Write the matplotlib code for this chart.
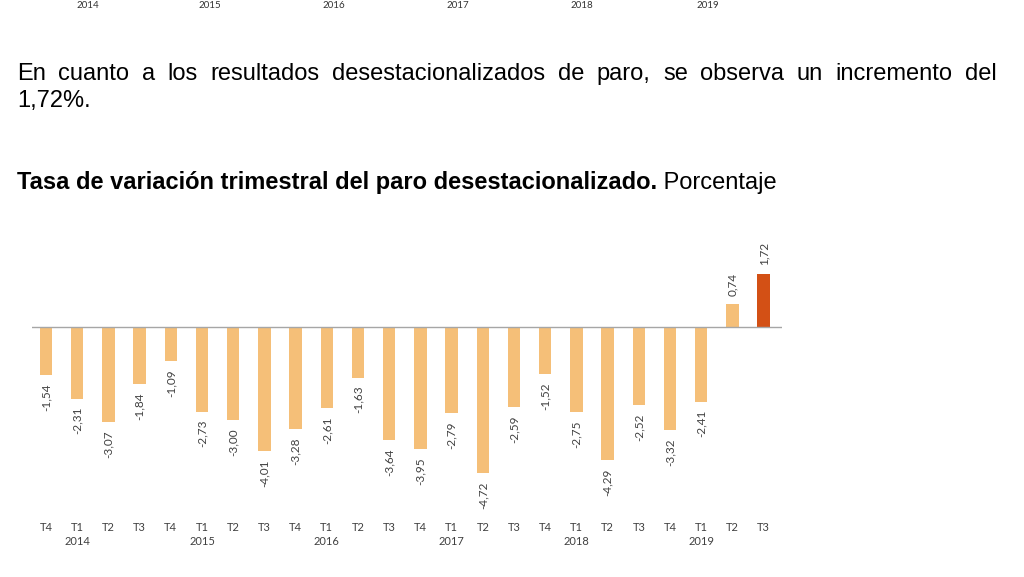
import numpy as np
import matplotlib
matplotlib.use("Agg")
import matplotlib.pyplot as plt

# ============================================
# DATA
# ============================================
quarters = ["T4", "T1", "T2", "T3", "T4", "T1", "T2", "T3", "T4", "T1", "T2", "T3",
            "T4", "T1", "T2", "T3", "T4", "T1", "T2", "T3", "T4", "T1", "T2", "T3"]
years = ["", "2014", "", "", "", "2015", "", "", "", "2016", "", "",
         "", "2017", "", "", "", "2018", "", "", "", "2019", "", ""]
values = [-1.54, -2.31, -3.07, -1.84, -1.09, -2.73, -3.00, -4.01, -3.28, -2.61, -1.63, -3.64,
          -3.95, -2.79, -4.72, -2.59, -1.52, -2.75, -4.29, -2.52, -3.32, -2.41, 0.74, 1.72]

# years left over from the previous chart (cut at the top of the page)
prev_years = ["2014", "2015", "2016", "2017", "2018", "2019"]
prev_years_x = [88, 210, 334, 458, 582, 708]

paragraph = ("En cuanto a los resultados desestacionalizados de paro, "
             "se observa un incremento del")
paragraph_end = "1,72%."
title_bold = "Tasa de variación trimestral del paro desestacionalizado."
title_norm = " Porcentaje"

light = "#F5BF78"
dark = "#D35015"

W, H = 1024, 577
fig = plt.figure(figsize=(W / 100, H / 100), dpi=100)
txt_font = "Liberation Sans"
lbl_font = "Lato"

# --- year labels left at the top of the page ---
for yr, px in zip(prev_years, prev_years_x):
    fig.text(px / W, 1 - 5 / H, yr, ha="center", va="center",
             fontsize=7, color="#333333", family=lbl_font)

# --- justified paragraph ---
fig.canvas.draw()
renderer = fig.canvas.get_renderer()
words = paragraph.split()
left_px, right_px = 17, 997
line1_y = 1 - 74 / H
fs = 17
objs = [fig.text(0, line1_y, w, fontsize=fs, family=txt_font, va="center") for w in words]
widths = [o.get_window_extent(renderer).width for o in objs]
gap = (right_px - left_px - sum(widths)) / (len(words) - 1)
cur = left_px
for o, w in zip(objs, widths):
    o.set_x(cur / W)
    cur += w + gap
fig.text(left_px / W, 1 - 101 / H, paragraph_end, fontsize=fs, family=txt_font, va="center")

# --- title ---
tb = fig.text(left_px / W, 1 - 183 / H, title_bold, fontsize=fs, family=txt_font,
              weight="bold", va="center")
tb_w = tb.get_window_extent(renderer).width
fig.text((left_px + tb_w) / W, 1 - 183 / H, title_norm, fontsize=fs, family=txt_font,
         va="center")

# --- bar chart ---
ax = fig.add_axes([32 / W, 1 - 500 / H, 750 / W, 260 / H])
x = np.arange(len(values))
colors = [light] * (len(values) - 1) + [dark]
ax.bar(x, values, width=0.4, color=colors, zorder=2)
ax.axhline(0, color="#A6A6A6", linewidth=1.0, zorder=3)
ax.set_xlim(-0.45, 23.59)
ax.set_ylim(-(500 - 327) / 31, (327 - 240) / 31)

for xi, v in zip(x, values):
    lab = f"{v:.2f}".replace(".", ",")
    off = -6 if v < 0 else 6
    ax.annotate(lab, (xi, v), xytext=(0, off), textcoords="offset points",
                rotation=90, ha="center", va="top" if v < 0 else "bottom",
                fontsize=8.5, color="#404040", family=lbl_font)

ticklabels = [q + ("\n" + y if y else "") for q, y in zip(quarters, years)]
ax.set_xticks(x)
ax.set_xticklabels(ticklabels, fontsize=8, color="#404040", family=lbl_font,
                   linespacing=1.35, va="top")
ax.tick_params(axis="x", length=0, pad=16)
ax.set_yticks([])
for s in ax.spines.values():
    s.set_visible(False)

plt.savefig("out.png", dpi=100)
